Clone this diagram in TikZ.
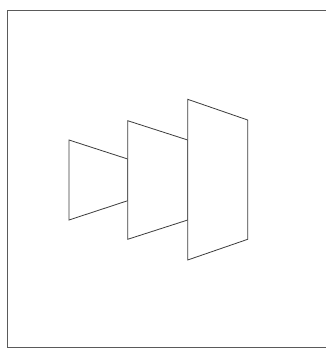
\documentclass[tikz,border=0pt]{standalone}
\usepackage{tikz}
\usetikzlibrary{calc}
\definecolor{frameline}{RGB}{90,90,90}
\definecolor{panelline}{RGB}{60,60,60}
\tikzset{
  framebox/.style={draw=frameline,line width=0.9pt},
  panel/.style={draw=panelline,line width=0.8pt,fill=white,line join=miter},
}

\begin{document}
\begin{tikzpicture}[x=1pt,y=-1pt]
  \useasboundingbox (0,0) rectangle (326,349);
  % outer frame (right side runs off the page)
  \draw[framebox] (7,10) rectangle (332,347);
  % small panel
  \draw[panel] (69,140) -- (127.7,159) -- (127.7,200.7) -- (69,220) -- cycle;
  % middle panel
  \draw[panel] (127.7,120.7) -- (187.7,140) -- (187.7,220) -- (127.7,239.3) -- cycle;
  % large panel
  \draw[panel] (187.7,99.3) -- (247.7,120) -- (247.7,239.3) -- (187.7,260) -- cycle;
\end{tikzpicture}
\end{document}
